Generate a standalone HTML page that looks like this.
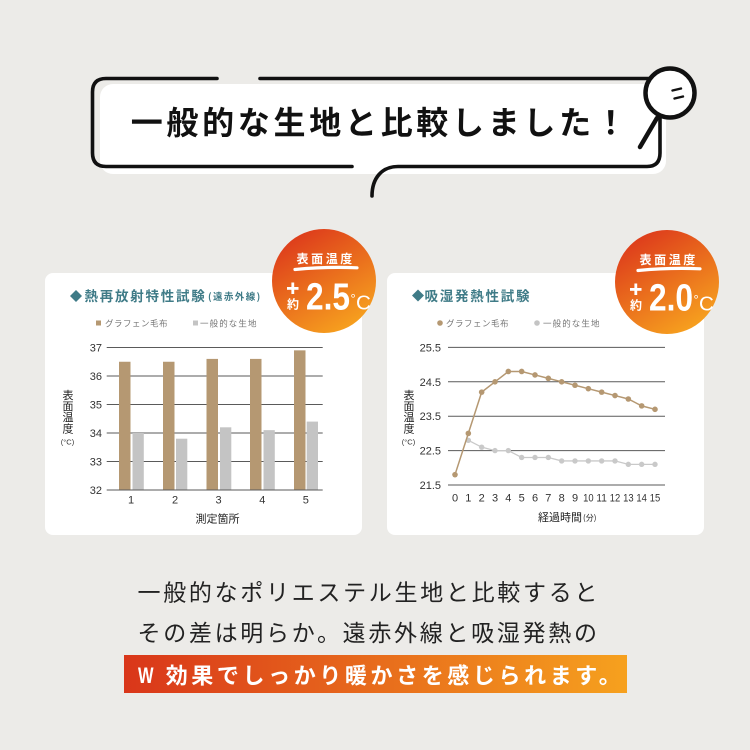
<!DOCTYPE html>
<html><head><meta charset="utf-8">
<style>
html,body{margin:0;padding:0;background:#ecebe8;}
svg{display:block;}
text{font-family:"Liberation Sans","Noto Sans CJK JP",sans-serif;}
.jp{font-family:"Noto Sans CJK JP","Liberation Sans",sans-serif;}
</style></head>
<body>
<svg width="750" height="750" viewBox="0 0 750 750" xmlns="http://www.w3.org/2000/svg">
<defs>
<linearGradient id="bg1" x1="0.2" y1="0" x2="0.8" y2="1">
<stop offset="0" stop-color="#dc361b"/><stop offset="1" stop-color="#f8a71f"/>
</linearGradient>
<linearGradient id="ban" x1="0" y1="0" x2="1" y2="0">
<stop offset="0" stop-color="#d9361a"/><stop offset="1" stop-color="#f6a11e"/>
</linearGradient>
</defs>
<rect width="750" height="750" fill="#ecebe8"/>

<!-- speech bubble -->
<rect x="100" y="84" width="566" height="90" rx="13" fill="#ffffff"/>
<g fill="none" stroke="#111" stroke-width="3.6" stroke-linecap="round">
<path d="M217,78.5 H106 Q92.5,78.5 92.5,92 V153 Q92.5,166.5 106,166.5 H352"/>
<path d="M260,78.5 H650"/>
<path d="M372,196 C372,178 382,166.5 398,166.5 H647 Q660,166.5 660,153 V116"/>
</g>
<circle cx="670" cy="93" r="24.5" fill="#fff" stroke="#111" stroke-width="4.5"/>
<line x1="657" y1="118" x2="640" y2="147" stroke="#111" stroke-width="4.5" stroke-linecap="round"/>
<g stroke="#111" stroke-width="2.4" stroke-linecap="round">
<line x1="672.5" y1="90.5" x2="681" y2="88.5"/>
<line x1="674.5" y1="98.5" x2="683" y2="96.5"/>
</g>
<text class="jp" x="130.7" y="134.2" font-size="32" font-weight="bold" letter-spacing="3.7" fill="#111">一般的な生地と比較しました！</text>

<!-- left card -->
<rect x="45" y="273" width="317" height="262" rx="8" fill="#ffffff"/>
<polygon points="76,290 82,296 76,302 70,296" fill="#3f7b87"/>
<text class="jp" x="84.5" y="301" font-size="13.5" font-weight="bold" letter-spacing="1.75" fill="#3f7b87">熱再放射特性試験</text>
<text class="jp" x="208" y="300" font-size="9.5" font-weight="bold" letter-spacing="1.4" fill="#3f7b87">(遠赤外線)</text>
<rect x="96" y="320.5" width="5" height="5" fill="#b59872"/>
<text class="jp" x="105" y="326.5" font-size="8.5" letter-spacing="0.5" fill="#777">グラフェン毛布</text>
<rect x="193" y="320.5" width="5" height="5" fill="#c4c4c4"/>
<text class="jp" x="200" y="326.5" font-size="8.5" letter-spacing="1.1" fill="#777">一般的な生地</text>

<g stroke="#5a5a5a" stroke-width="1">
<line x1="106.7" y1="347.5" x2="322.7" y2="347.5"/>
<line x1="106.7" y1="376" x2="322.7" y2="376"/>
<line x1="106.7" y1="404.5" x2="322.7" y2="404.5"/>
<line x1="106.7" y1="433" x2="322.7" y2="433"/>
<line x1="106.7" y1="461.5" x2="322.7" y2="461.5"/>
</g>
<g fill="#b59872">
<rect x="119" y="361.75" width="11.5" height="128.25"/>
<rect x="163" y="361.75" width="11.5" height="128.25"/>
<rect x="206.5" y="358.9" width="11.5" height="131.1"/>
<rect x="250" y="358.9" width="11.5" height="131.1"/>
<rect x="294" y="350.35" width="11.5" height="139.65"/>
</g>
<g fill="#c4c4c4">
<rect x="132.5" y="433" width="11.3" height="57"/>
<rect x="176" y="438.7" width="11.3" height="51.3"/>
<rect x="220" y="427.3" width="11.3" height="62.7"/>
<rect x="263.5" y="430.15" width="11.3" height="59.85"/>
<rect x="306.7" y="421.6" width="11.3" height="68.4"/>
</g>
<line x1="106.7" y1="490" x2="322.7" y2="490" stroke="#5a5a5a" stroke-width="1"/>
<g font-size="11" fill="#333" text-anchor="end">
<text x="102" y="351.5">37</text>
<text x="102" y="380">36</text>
<text x="102" y="408.5">35</text>
<text x="102" y="437">34</text>
<text x="102" y="465.5">33</text>
<text x="102" y="494">32</text>
</g>
<g font-size="11" fill="#333" text-anchor="middle">
<text x="131" y="503.5">1</text>
<text x="175" y="503.5">2</text>
<text x="218.5" y="503.5">3</text>
<text x="262.3" y="503.5">4</text>
<text x="305.8" y="503.5">5</text>
</g>
<text class="jp" x="217.5" y="522.4" font-size="11" text-anchor="middle" fill="#222">測定箇所</text>
<g class="jp" font-size="11" fill="#222" text-anchor="middle">
<text class="jp" x="68" y="399.2">表</text>
<text class="jp" x="68" y="410.2">面</text>
<text class="jp" x="68" y="421.2">温</text>
<text class="jp" x="68" y="432.4">度</text>
</g>
<text x="67.5" y="444.5" font-size="7.5" text-anchor="middle" fill="#333">(°C)</text>

<!-- left badge -->
<circle cx="324" cy="281" r="52" fill="url(#bg1)"/>
<text class="jp" x="296.5" y="263" font-size="12" font-weight="bold" letter-spacing="2.6" fill="#fff">表面温度</text>
<path d="M295,269.5 Q327,266.5 357,267.8" stroke="#fff" stroke-width="3.2" fill="none" stroke-linecap="round"/>
<rect x="287" y="287" width="11.5" height="2.8" fill="#fff"/>
<rect x="291.4" y="282.5" width="2.8" height="11.5" fill="#fff"/>
<text class="jp" x="293" y="308.5" font-size="12" font-weight="bold" text-anchor="middle" fill="#fff">約</text>
<text x="306" y="309.5" font-size="38" font-weight="bold" textLength="44" lengthAdjust="spacingAndGlyphs" fill="#fff">2.5</text>
<text x="350.5" y="303" font-size="13" fill="#fff">°</text>
<text x="356" y="309.5" font-size="20.5" fill="#fff">C</text>

<!-- right card -->
<rect x="387" y="273" width="317" height="262" rx="8" fill="#ffffff"/>
<polygon points="418,289.5 424,295.5 418,301.5 412,295.5" fill="#3f7b87"/>
<text class="jp" x="424.5" y="300.8" font-size="13.5" font-weight="bold" letter-spacing="1.75" fill="#3f7b87">吸湿発熱性試験</text>
<circle cx="440" cy="323" r="2.8" fill="#b59872"/>
<text class="jp" x="446" y="326.5" font-size="8.5" letter-spacing="0.5" fill="#777">グラフェン毛布</text>
<circle cx="537" cy="323" r="2.8" fill="#c4c4c4"/>
<text class="jp" x="543" y="326.5" font-size="8.5" letter-spacing="1.1" fill="#777">一般的な生地</text>

<g stroke="#5a5a5a" stroke-width="1">
<line x1="448" y1="347.4" x2="665" y2="347.4"/>
<line x1="448" y1="381.8" x2="665" y2="381.8"/>
<line x1="448" y1="416.2" x2="665" y2="416.2"/>
<line x1="448" y1="450.6" x2="665" y2="450.6"/>
<line x1="448" y1="485" x2="665" y2="485"/>
</g>
<g font-size="11" fill="#333" text-anchor="end">
<text x="441" y="351.4">25.5</text>
<text x="441" y="385.8">24.5</text>
<text x="441" y="420.2">23.5</text>
<text x="441" y="454.6">22.5</text>
<text x="441" y="489">21.5</text>
</g>
<polyline fill="none" stroke="#c9c9c9" stroke-width="1.3" points="468.33,440.28 481.67,447.16 495,450.6 508.33,450.6 521.67,457.48 535,457.48 548.33,457.48 561.67,460.92 575,460.92 588.33,460.92 601.67,460.92 615,460.92 628.33,464.36 641.67,464.36 655,464.36"/>
<g fill="#c9c9c9">
<circle cx="468.33" cy="440.28" r="2.7"/><circle cx="481.67" cy="447.16" r="2.7"/><circle cx="495" cy="450.6" r="2.7"/><circle cx="508.33" cy="450.6" r="2.7"/><circle cx="521.67" cy="457.48" r="2.7"/><circle cx="535" cy="457.48" r="2.7"/><circle cx="548.33" cy="457.48" r="2.7"/><circle cx="561.67" cy="460.92" r="2.7"/><circle cx="575" cy="460.92" r="2.7"/><circle cx="588.33" cy="460.92" r="2.7"/><circle cx="601.67" cy="460.92" r="2.7"/><circle cx="615" cy="460.92" r="2.7"/><circle cx="628.33" cy="464.36" r="2.7"/><circle cx="641.67" cy="464.36" r="2.7"/><circle cx="655" cy="464.36" r="2.7"/>
</g>
<polyline fill="none" stroke="#b59872" stroke-width="1.5" points="455,474.68 468.33,433.4 481.67,392.12 495,381.8 508.33,371.48 521.67,371.48 535,374.92 548.33,378.36 561.67,381.8 575,385.24 588.33,388.68 601.67,392.12 615,395.56 628.33,399 641.67,405.88 655,409.32"/>
<g fill="#b59872">
<circle cx="455" cy="474.68" r="2.8"/><circle cx="468.33" cy="433.4" r="2.8"/><circle cx="481.67" cy="392.12" r="2.8"/><circle cx="495" cy="381.8" r="2.8"/><circle cx="508.33" cy="371.48" r="2.8"/><circle cx="521.67" cy="371.48" r="2.8"/><circle cx="535" cy="374.92" r="2.8"/><circle cx="548.33" cy="378.36" r="2.8"/><circle cx="561.67" cy="381.8" r="2.8"/><circle cx="575" cy="385.24" r="2.8"/><circle cx="588.33" cy="388.68" r="2.8"/><circle cx="601.67" cy="392.12" r="2.8"/><circle cx="615" cy="395.56" r="2.8"/><circle cx="628.33" cy="399" r="2.8"/><circle cx="641.67" cy="405.88" r="2.8"/><circle cx="655" cy="409.32" r="2.8"/>
</g>
<g font-size="11" fill="#333" text-anchor="middle">
<text x="455" y="501.7">0</text><text x="468.33" y="501.7">1</text><text x="481.67" y="501.7">2</text><text x="495" y="501.7">3</text><text x="508.33" y="501.7">4</text><text x="521.67" y="501.7">5</text><text x="535" y="501.7">6</text><text x="548.33" y="501.7">7</text><text x="561.67" y="501.7">8</text><text x="575" y="501.7">9</text><text x="588.33" y="501.7" textLength="10.5" lengthAdjust="spacingAndGlyphs">10</text><text x="601.67" y="501.7" textLength="10.5" lengthAdjust="spacingAndGlyphs">11</text><text x="615" y="501.7" textLength="10.5" lengthAdjust="spacingAndGlyphs">12</text><text x="628.33" y="501.7" textLength="10.5" lengthAdjust="spacingAndGlyphs">13</text><text x="641.67" y="501.7" textLength="10.5" lengthAdjust="spacingAndGlyphs">14</text><text x="655" y="501.7" textLength="10.5" lengthAdjust="spacingAndGlyphs">15</text>
</g>
<text class="jp" x="538" y="521" font-size="11" fill="#222">経過時間</text>
<text class="jp" x="583" y="520.5" font-size="8" fill="#222">(分)</text>
<g font-size="11" fill="#222" text-anchor="middle">
<text class="jp" x="409" y="399.2">表</text>
<text class="jp" x="409" y="410.2">面</text>
<text class="jp" x="409" y="421.2">温</text>
<text class="jp" x="409" y="432.4">度</text>
</g>
<text x="408.5" y="444.5" font-size="7.5" text-anchor="middle" fill="#333">(°C)</text>

<!-- right badge -->
<g transform="translate(343,1)">
<circle cx="324" cy="281" r="52" fill="url(#bg1)"/>
<text class="jp" x="296.5" y="263" font-size="12" font-weight="bold" letter-spacing="2.6" fill="#fff">表面温度</text>
<path d="M295,269.5 Q327,266.5 357,267.8" stroke="#fff" stroke-width="3.2" fill="none" stroke-linecap="round"/>
<rect x="287" y="287" width="11.5" height="2.8" fill="#fff"/>
<rect x="291.4" y="282.5" width="2.8" height="11.5" fill="#fff"/>
<text class="jp" x="293" y="308.5" font-size="12" font-weight="bold" text-anchor="middle" fill="#fff">約</text>
<text x="306" y="309.5" font-size="38" font-weight="bold" textLength="44" lengthAdjust="spacingAndGlyphs" fill="#fff">2.0</text>
<text x="350.5" y="303" font-size="13" fill="#fff">°</text>
<text x="356" y="309.5" font-size="20.5" fill="#fff">C</text>
</g>

<!-- bottom text -->
<text class="jp" x="137.5" y="600.3" font-size="23" letter-spacing="2.7" fill="#222">一般的なポリエステル生地と比較すると</text>
<text class="jp" x="137.5" y="641" font-size="23" letter-spacing="2.7" fill="#222">その差は明らか。遠赤外線と吸湿発熱の</text>
<rect x="124" y="655" width="503" height="38" fill="url(#ban)"/>
<text x="138" y="683" font-size="22" font-weight="bold" textLength="15.5" lengthAdjust="spacingAndGlyphs" fill="#fff">W</text>
<text class="jp" x="165.7" y="683.4" font-size="22" font-weight="bold" letter-spacing="3.6" fill="#fff">効果でしっかり暖かさを感じられます。</text>
</svg>
</body></html>
